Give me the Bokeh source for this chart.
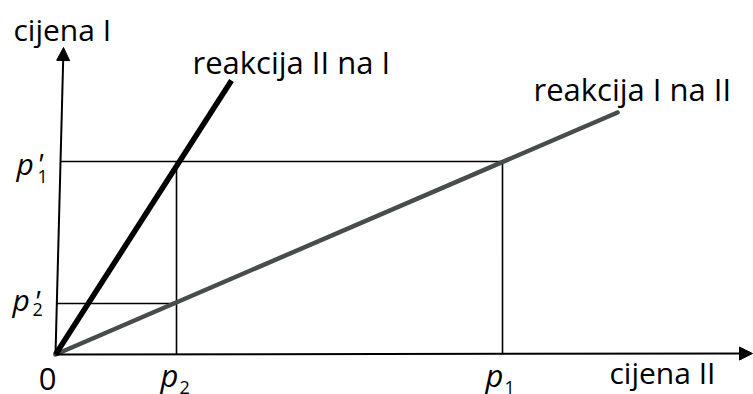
from bokeh.plotting import figure
from bokeh.models import Range1d, Arrow, NormalHead
from bokeh.core.properties import value
from bokeh.embed import file_html
from bokeh.resources import INLINE

# ---- data (in plot units from the origin) ----
p2 = 121            # cijena II, lower price
p1 = 447            # cijena II, higher price
p2_prime = 51       # cijena I, lower price
p1_prime = 193      # cijena I, higher price

reaction_I_x = [0, 562]    # reakcija I na II (grey, flat)
reaction_I_y = [0, 242]
reaction_II_x = [0, 176]   # reakcija II na I (black, steep)
reaction_II_y = [0, 274]

x_axis_end = [697, 1]
y_axis_end = [8, 307]      # the scanned y axis leans slightly

x_tick_names = ["p", "p"]
x_tick_subs = ["2", "1"]
x_tick_vals = [p2, p1]
y_tick_names = ["p", "p"]
y_tick_subs = ["1", "2"]
y_tick_vals = [p1_prime, p2_prime]

FONT = "Open Sans"
DY = -9   # baseline correction for the svg text placement


def axis_x_at(y):
    return y_axis_end[0] * y / y_axis_end[1]


p = figure(width=753, height=394, x_range=Range1d(-55, 698), y_range=Range1d(-40, 354),
           output_backend="svg", toolbar_location=None, min_border=0,
           x_axis_location=None, y_axis_location=None)
p.grid.visible = False
p.outline_line_color = None
p.background_fill_color = "white"
p.border_fill_color = "white"

# guide lines
p.segment(x0=[axis_x_at(v) for v in y_tick_vals], y0=y_tick_vals,
          x1=[p1, p2], y1=y_tick_vals, line_color="black", line_width=1.6)
p.segment(x0=x_tick_vals, y0=[0, 0], x1=x_tick_vals, y1=[p1_prime, p1_prime],
          line_color="black", line_width=1.6)

# reaction lines
p.line(reaction_I_x, reaction_I_y, line_color="#474d4c", line_width=4.5, line_cap="round")
p.line(reaction_II_x, reaction_II_y, line_color="black", line_width=5.5, line_cap="butt")

# axes
p.add_layout(Arrow(end=NormalHead(size=13, fill_color="black", line_color="black"),
                   x_start=0, y_start=0, x_end=x_axis_end[0], y_end=x_axis_end[1],
                   line_color="black", line_width=2))
p.add_layout(Arrow(end=NormalHead(size=13, fill_color="black", line_color="black"),
                   x_start=0, y_start=0, x_end=y_axis_end[0], y_end=y_axis_end[1],
                   line_color="black", line_width=2))

# axis titles and line labels
p.text(x=[y_axis_end[0]], y=[y_axis_end[1]], text=["cijena I"], x_offset=-50, y_offset=-9 + DY,
       text_font=value(FONT), text_font_size="30px", text_color="black",
       text_baseline="alphabetic", text_align="left")
p.text(x=[x_axis_end[0]], y=[x_axis_end[1]], text=["cijena II"], x_offset=-143, y_offset=28 + DY,
       text_font=value(FONT), text_font_size="30px", text_color="black",
       text_baseline="alphabetic", text_align="left")
p.text(x=[reaction_II_x[-1]], y=[reaction_II_y[-1]], text=["reakcija II na I"],
       x_offset=-39, y_offset=-10 + DY, text_font=value(FONT), text_font_size="31px",
       text_color="black", text_baseline="alphabetic", text_align="left")
p.text(x=[reaction_I_x[-1]], y=[reaction_I_y[-1]], text=["reakcija I na II"],
       x_offset=-84, y_offset=-15 + DY, text_font=value(FONT), text_font_size="31px",
       text_color="black", text_baseline="alphabetic", text_align="left")

# origin
p.text(x=[0], y=[0], text=["0"], x_offset=-8, y_offset=33 + DY, text_font=value(FONT),
       text_font_size="31px", text_color="black", text_baseline="alphabetic",
       text_align="center")

# x tick labels (italic p with subscript)
p.text(x=x_tick_vals, y=[0, 0], text=x_tick_names, x_offset=[-16, -17], y_offset=29 + DY,
       text_font=value(FONT), text_font_size="31px", text_font_style="italic",
       text_color="black", text_baseline="alphabetic", text_align="left")
p.text(x=x_tick_vals, y=[0, 0], text=x_tick_subs, x_offset=[3, 2], y_offset=42 + DY,
       text_font=value(FONT), text_font_size="18px", text_color="black",
       text_baseline="alphabetic", text_align="left")

# y tick labels (italic p with prime and subscript)
p.text(x=[0, 0], y=y_tick_vals, text=y_tick_names, x_offset=[-39, -43],
       y_offset=[11 + DY, 5 + DY],
       text_font=value(FONT), text_font_size="30px", text_font_style="italic",
       text_color="black", text_baseline="alphabetic", text_align="left")
p.text(x=[0, 0], y=y_tick_vals, text=["'", "'"], x_offset=[-19, -22],
       y_offset=[11 + DY, 6 + DY],
       text_font=value(FONT), text_font_size="30px", text_font_style="italic",
       text_color="black", text_baseline="alphabetic", text_align="left")
p.text(x=[0, 0], y=y_tick_vals, text=y_tick_subs, x_offset=[-18, -23],
       y_offset=[24 + DY, 15 + DY],
       text_font=value(FONT), text_font_size="18px", text_color="black",
       text_baseline="alphabetic", text_align="left")

open("out.html", "w").write(file_html(p, INLINE))
